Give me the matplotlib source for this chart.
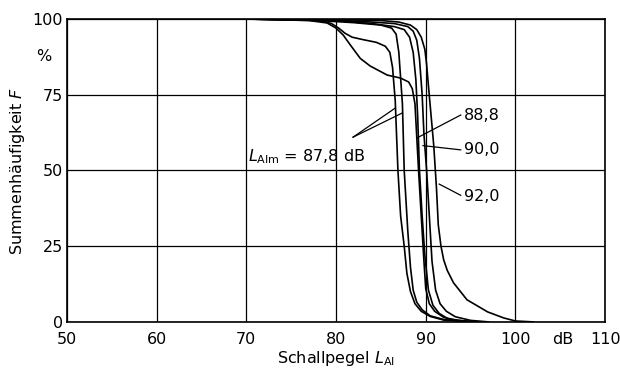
import matplotlib
matplotlib.use("Agg")
import matplotlib.pyplot as plt

# --- data ---
x_ticks = [50, 60, 70, 80, 90, 100, 110]
y_ticks = [0, 25, 50, 75, 100]

c1_x = [70, 76, 78.5, 79.5, 80.3, 81, 81.8, 83, 84.5, 85.5, 86.0, 86.3, 86.6, 86.9, 87.2, 87.6, 87.9, 88.3, 88.8, 89.5, 90.5, 92, 95]
c1_y = [100, 99.8, 99.3, 98.5, 97, 95.3, 94, 93.2, 92.3, 91, 89, 84, 73, 50, 35, 25, 16, 10, 6, 3.5, 1.8, 0.6, 0]

c2_x = [70, 78, 82, 85, 86.2, 86.7, 87.0, 87.4, 87.6, 88.0, 88.3, 88.6, 89.0, 89.6, 90.5, 92, 95]
c2_y = [100, 99.5, 98.8, 98, 97, 95, 89, 72, 50, 30, 18, 10.5, 6.5, 4, 2, 0.8, 0]

c3_x = [70, 77, 79, 80, 80.8, 81.6, 82.7, 83.8, 85.7, 87.2, 88.1, 88.5, 88.8, 89.0, 89.2, 89.5, 89.8, 90.0, 90.4, 91, 92, 93.5, 96]
c3_y = [100, 99.5, 98.7, 97, 94.7, 91.4, 87, 84.5, 81.5, 80.5, 79.2, 77, 72, 61, 50, 35, 20, 11, 6, 3.5, 1.5, 0.5, 0]

c4_x = [70, 80, 84, 86.5, 87.6, 88.2, 88.6, 88.9, 89.1, 89.3, 89.6, 89.9, 90.3, 90.8, 91.5, 92.5, 95]
c4_y = [100, 99.5, 98.5, 97.5, 96.5, 94, 89, 80, 68, 50, 35, 22, 10.5, 5.5, 2.8, 1, 0]

c5_x = [70, 80, 84, 86.5, 88, 88.6, 89.0, 89.3, 89.6, 89.8, 90.1, 90.4, 90.7, 91.1, 91.6, 92.3, 93.3, 95, 97]
c5_y = [100, 99.6, 99, 98.5, 97.5, 96, 93, 87, 75, 62, 50, 35, 20, 10.5, 6, 3.5, 1.7, 0.5, 0]

c6_x = [70, 80, 85, 87, 88.3, 89.0, 89.5, 89.9, 90.1, 90.3, 90.6, 90.9, 91.2, 91.4, 91.7, 92.0, 92.4, 93.1, 94.6, 96.9, 98.7, 100, 102]
c6_y = [100, 99.8, 99.5, 99, 98, 96.5, 94, 90, 85, 78, 68, 58, 44, 32, 25, 20.5, 17, 12.9, 7.3, 3.3, 1.3, 0.3, 0]

curves = [(c1_x, c1_y), (c2_x, c2_y), (c3_x, c3_y), (c4_x, c4_y), (c5_x, c5_y), (c6_x, c6_y)]

fig = plt.figure(figsize=(6.2, 3.73), dpi=100)
ax = fig.add_axes([0.108, 0.137, 0.868, 0.812])

for xs, ys in curves:
    ax.plot(xs, ys, color="black", lw=1.2, solid_joinstyle="round", solid_capstyle="round")

ax.set_xlim(50, 110)
ax.set_ylim(0, 100)
ax.set_xticks(x_ticks)
ax.set_yticks(y_ticks)
ax.set_xticks([105.3], minor=True)
ax.set_xticklabels(["dB"], minor=True)
ax.set_yticks([88], minor=True)
ax.set_yticklabels(["%"], minor=True)
ax.grid(True, which="major", color="black", lw=0.9)
ax.tick_params(which="both", length=0, labelsize=11.5)
ax.tick_params(axis="x", which="both", pad=7)
ax.tick_params(axis="y", which="major", pad=3)
ax.tick_params(axis="y", which="minor", pad=11)
for s in ax.spines.values():
    s.set_linewidth(1.2)

ax.set_xlabel("Schallpegel $L_{\\mathrm{AI}}$", fontsize=11.5, labelpad=2)
ax.set_ylabel("Summenhäufigkeit $F$", fontsize=11.5, labelpad=4)

# annotations
ax.text(70.2, 54.5, "$L_{\\mathrm{AIm}}$ = 87,8 dB", fontsize=11.5, va="center", ha="left")
ax.plot([81.9, 86.6], [61, 70.6], color="black", lw=0.9)
ax.plot([81.9, 87.4], [61, 69], color="black", lw=0.9)

ax.text(94.3, 68.3, "88,8", fontsize=11.5, va="center", ha="left")
ax.plot([93.9, 89.0], [68.3, 60.7], color="black", lw=0.9)
ax.text(94.3, 56.8, "90,0", fontsize=11.5, va="center", ha="left")
ax.plot([93.9, 89.7], [56.8, 58.2], color="black", lw=0.9)
ax.text(94.3, 41.5, "92,0", fontsize=11.5, va="center", ha="left")
ax.plot([93.9, 91.5], [41.8, 45.5], color="black", lw=0.9)

fig.savefig("out.png", dpi=100)
